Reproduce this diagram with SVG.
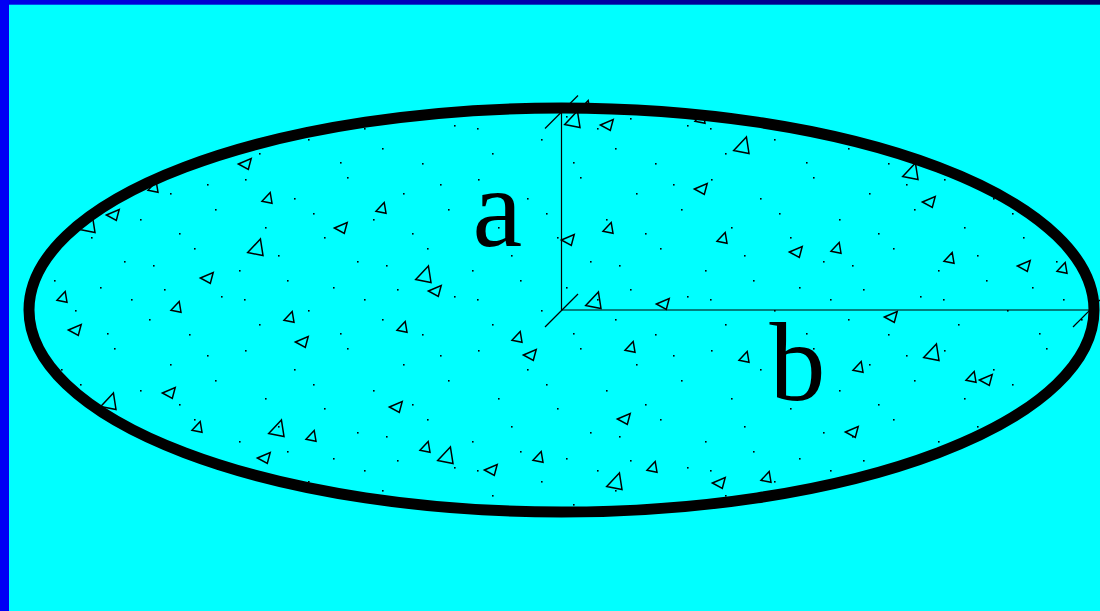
<svg xmlns="http://www.w3.org/2000/svg" xmlns:xlink="http://www.w3.org/1999/xlink" width="1100" height="611" viewBox="0 0 1100 611">
  <style>
    .tri { fill: none; stroke: #000; stroke-width: 1.5; stroke-linejoin: miter; }
    .dim { fill: none; stroke: #000; stroke-width: 1.2; }
    .lbl { font-family: "Liberation Serif", "Times New Roman", serif; font-size: 112px; fill: #000; }
  </style>
  <defs>
    <linearGradient id="topbar" x1="0" y1="0" x2="1" y2="0">
      <stop offset="0" stop-color="#0000e8"/>
      <stop offset="1" stop-color="#000068"/>
    </linearGradient>
    <pattern id="dots" patternUnits="userSpaceOnUse" x="0" y="0" width="233" height="171">
      <g fill="#000">
        <rect x="12" y="8" width="1.6" height="1.6"/>
        <rect x="61" y="27" width="1.6" height="1.6"/>
        <rect x="114" y="6" width="1.6" height="1.6"/>
        <rect x="170" y="22" width="1.6" height="1.6"/>
        <rect x="215" y="38" width="1.6" height="1.6"/>
        <rect x="32" y="56" width="1.6" height="1.6"/>
        <rect x="91" y="66" width="1.6" height="1.6"/>
        <rect x="140" y="48" width="1.6" height="1.6"/>
        <rect x="194" y="77" width="1.6" height="1.6"/>
        <rect x="6" y="99" width="1.6" height="1.6"/>
        <rect x="54" y="109" width="1.6" height="1.6"/>
        <rect x="124" y="90" width="1.6" height="1.6"/>
        <rect x="164" y="118" width="1.6" height="1.6"/>
        <rect x="221" y="125" width="1.6" height="1.6"/>
        <rect x="75" y="139" width="1.6" height="1.6"/>
        <rect x="26" y="153" width="1.6" height="1.6"/>
        <rect x="107" y="162" width="1.6" height="1.6"/>
        <rect x="149" y="148" width="1.6" height="1.6"/>
        <rect x="189" y="163" width="1.6" height="1.6"/>
        <rect x="207" y="13" width="1.6" height="1.6"/>
        <rect x="45" y="84" width="1.6" height="1.6"/>
        <rect x="131" y="128" width="1.6" height="1.6"/>
        <rect x="179" y="62" width="1.6" height="1.6"/>
        <rect x="100" y="116" width="1.6" height="1.6"/>
        <rect x="11" y="128" width="1.6" height="1.6"/>
        <rect x="80" y="42" width="1.6" height="1.6"/>
        <rect x="153" y="94" width="1.6" height="1.6"/>
      </g>
    </pattern>
    <polygon id="A" class="tri" points="3.4,-10 -9.3,3.6 6,6.5"/>
    <polygon id="a" class="tri" points="2.2,-6.5 -6,2.3 4,4.2"/>
    <polygon id="B" class="tri" points="-7.6,0 5.2,-5.5 2.3,5.5"/>
  </defs>

  <!-- background and frame -->
  <rect x="0" y="0" width="1100" height="611" fill="#00ffff"/>
  <rect x="0" y="0" width="1100" height="4.7" fill="url(#topbar)"/>
  <rect x="0" y="0" width="9" height="611" fill="#0000f4"/>

  <g id="section">
    <ellipse cx="561.5" cy="310" rx="532.5" ry="202" fill="#00ffff"/>
    <ellipse cx="561.5" cy="310" rx="532.5" ry="202" fill="url(#dots)"/>
    <g id="aggregate">
      <use href="#A" x="574" y="121"/>
      <use href="#A" x="110" y="403"/>
      <use href="#A" x="257" y="249"/>
      <use href="#A" x="425" y="276"/>
      <use href="#A" x="278" y="430"/>
      <use href="#A" x="447" y="457"/>
      <use href="#A" x="595" y="302"/>
      <use href="#A" x="616" y="483"/>
      <use href="#A" x="743" y="147"/>
      <use href="#A" x="912" y="173"/>
      <use href="#A" x="933" y="354"/>
      <use href="#A" x="89" y="226"/>

      <use href="#a" x="154" y="188"/>
      <use href="#a" x="63" y="298"/>
      <use href="#a" x="177" y="308"/>
      <use href="#a" x="198" y="428"/>
      <use href="#a" x="268" y="199"/>
      <use href="#a" x="382" y="209"/>
      <use href="#a" x="290" y="318"/>
      <use href="#a" x="403" y="328"/>
      <use href="#a" x="312" y="437"/>
      <use href="#a" x="426" y="448"/>
      <use href="#a" x="609" y="229"/>
      <use href="#a" x="518" y="338"/>
      <use href="#a" x="631" y="348"/>
      <use href="#a" x="539" y="458"/>
      <use href="#a" x="653" y="468"/>
      <use href="#a" x="701" y="119"/>
      <use href="#a" x="586" y="107"/>
      <use href="#a" x="723" y="239"/>
      <use href="#a" x="837" y="249"/>
      <use href="#a" x="745" y="358"/>
      <use href="#a" x="859" y="368"/>
      <use href="#a" x="767" y="478"/>
      <use href="#a" x="950" y="259"/>
      <use href="#a" x="1063" y="269"/>
      <use href="#a" x="972" y="378"/>

      <use href="#B" x="246" y="164"/>
      <use href="#B" x="114" y="215"/>
      <use href="#B" x="208" y="278"/>
      <use href="#B" x="76" y="330"/>
      <use href="#B" x="170" y="393"/>
      <use href="#B" x="342" y="228"/>
      <use href="#B" x="436" y="291"/>
      <use href="#B" x="303" y="342"/>
      <use href="#B" x="397" y="407"/>
      <use href="#B" x="265" y="458"/>
      <use href="#B" x="608" y="125"/>
      <use href="#B" x="569" y="240"/>
      <use href="#B" x="664" y="304"/>
      <use href="#B" x="531" y="355"/>
      <use href="#B" x="625" y="419"/>
      <use href="#B" x="492" y="470"/>
      <use href="#B" x="702" y="189"/>
      <use href="#B" x="797" y="252"/>
      <use href="#B" x="892" y="317"/>
      <use href="#B" x="853" y="432"/>
      <use href="#B" x="720" y="483"/>
      <use href="#B" x="930" y="202"/>
      <use href="#B" x="1025" y="266"/>
      <use href="#B" x="987" y="380"/>
    </g>
    <ellipse cx="561.5" cy="310" rx="532.5" ry="202" fill="none" stroke="#000" stroke-width="11"/>
  </g>

  <g id="dimensions">
    <line class="dim" x1="561.5" y1="310" x2="561.5" y2="108"/>
    <line class="dim" x1="561.5" y1="310" x2="1092" y2="310"/>
    <line class="dim" x1="545" y1="327" x2="578" y2="294"/>
    <line class="dim" x1="545" y1="128.5" x2="578" y2="95.5"/>
    <line class="dim" x1="1073" y1="327" x2="1106" y2="294"/>
  </g>

  <g id="labels">
    <text class="lbl" font-family="Liberation Serif, serif" x="472.5" y="246">a</text>
    <text class="lbl" font-family="Liberation Serif, serif" x="769.5" y="399.5">b</text>
  </g>
</svg>
